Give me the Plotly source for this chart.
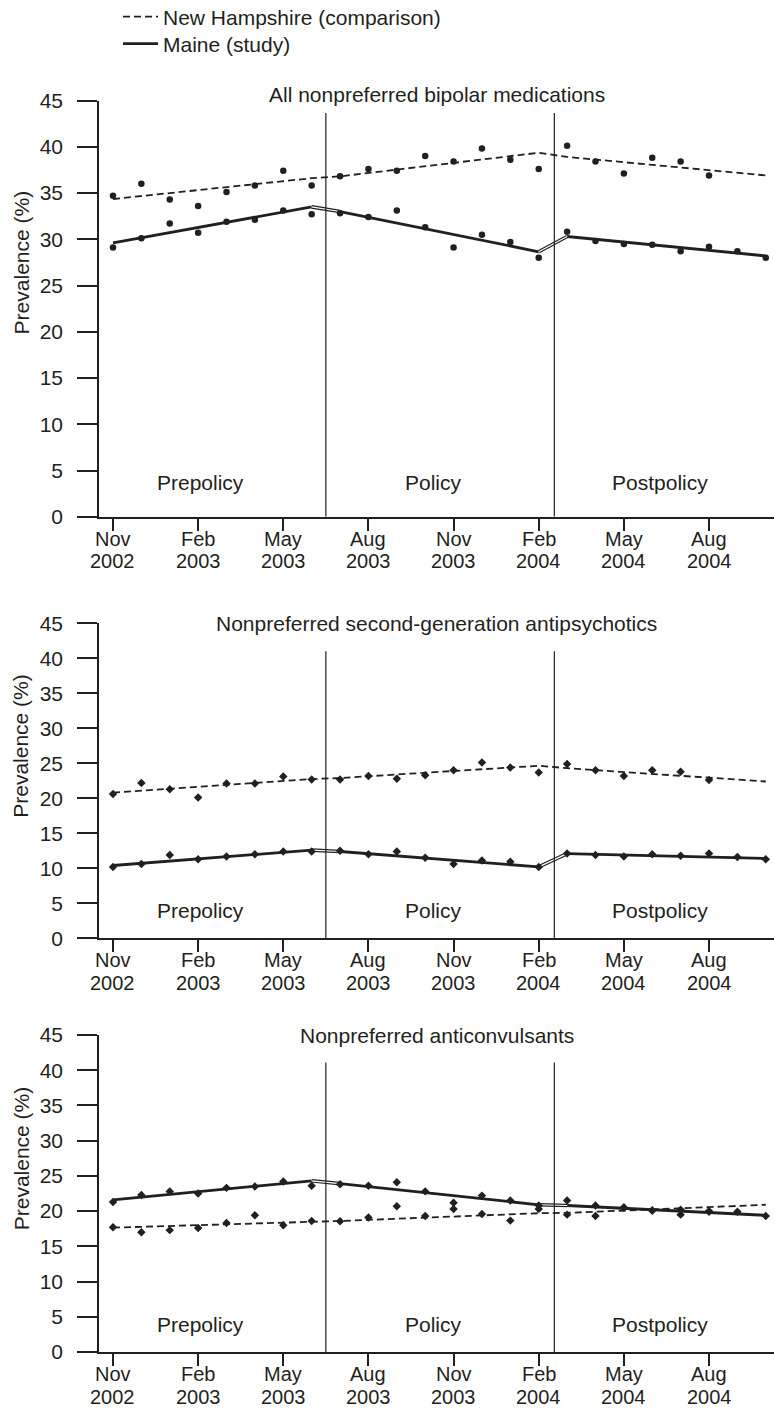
import plotly.graph_objects as go

# Monthly observation periods
months = ["Nov 2002", "Dec 2002", "Jan 2003", "Feb 2003", "Mar 2003", "Apr 2003",
          "May 2003", "Jun 2003", "Jul 2003", "Aug 2003", "Sep 2003", "Oct 2003",
          "Nov 2003", "Dec 2003", "Jan 2004", "Feb 2004", "Mar 2004", "Apr 2004",
          "May 2004", "Jun 2004", "Jul 2004", "Aug 2004", "Sep 2004", "Oct 2004"]
tick_months = ["Nov 2002", "Feb 2003", "May 2003", "Aug 2003",
               "Nov 2003", "Feb 2004", "May 2004", "Aug 2004"]

# End points of the fitted segments (pre-policy, policy, post-policy)
fit_months = ["Nov 2002", "Jun 2003", "Jul 2003", "Feb 2004", "Mar 2004", "Oct 2004"]

panel_titles = ["All nonpreferred bipolar medications",
                "Nonpreferred second-generation antipsychotics",
                "Nonpreferred anticonvulsants"]
period_names = ["Prepolicy", "Policy", "Postpolicy"]
series_names = ["New Hampshire (comparison)", "Maine (study)"]

# All nonpreferred bipolar medications, prevalence (%)
nh_all = [34.7, 36.0, 34.3, 33.6, 35.1, 35.8, 37.4, 35.8, 36.8, 37.6, 37.4,
          39.0, 38.4, 39.8, 38.6, 37.6, 40.1, 38.4, 37.1, 38.8, 38.4, 36.9]
me_all = [29.1, 30.1, 31.7, 30.7, 31.9, 32.1, 33.1, 32.7, 32.8, 32.4, 33.1, 31.3,
          29.1, 30.5, 29.7, 28.0, 30.8, 29.8, 29.5, 29.4, 28.7, 29.2, 28.7, 28.0]
nh_all_fit = [34.35, 36.6, 36.8, 39.35, 38.9, 36.9]
me_all_fit = [29.6, 33.5, 33.0, 28.65, 30.3, 28.2]

# Nonpreferred second-generation antipsychotics
nh_sga = [20.6, 22.2, 21.3, 20.1, 22.1, 22.1, 23.1, 22.7, 22.7, 23.2, 22.8,
          23.3, 24.0, 25.1, 24.4, 23.7, 24.9, 24.0, 23.2, 24.0, 23.8, 22.6]
me_sga = [10.2, 10.6, 11.9, 11.3, 11.7, 12.0, 12.4, 12.4, 12.5, 12.0, 12.4, 11.5,
          10.6, 11.1, 10.95, 10.2, 12.1, 11.9, 11.7, 12.0, 11.8, 12.1, 11.6, 11.3]
nh_sga_fit = [20.8, 22.75, 22.9, 24.65, 24.3, 22.4]
me_sga_fit = [10.4, 12.6, 12.4, 10.2, 12.1, 11.4]

# Nonpreferred anticonvulsants
nh_ac = [17.7, 17.0, 17.3, 17.6, 18.3, 19.4, 18.0, 18.6, 18.55, 19.1, 20.7,
         19.3, 20.3, 19.6, 18.65, 20.3, 19.5, 19.3, 20.5, 20.1, 19.5, 20.0]
me_ac = [21.3, 22.3, 22.8, 22.5, 23.3, 23.5, 24.2, 23.6, 23.8, 23.6, 24.1, 22.8,
         21.2, 22.2, 21.5, 20.8, 21.5, 20.8, 20.5, 20.1, 20.2, 19.9, 19.9, 19.3]
nh_ac_fit = [17.65, 18.5, 18.6, 19.7, 19.75, 20.9]
me_ac_fit = [21.6, 24.3, 23.9, 20.9, 20.8, 19.4]

panels = [
    dict(nh=nh_all, me=me_all, nh_fit=nh_all_fit, me_fit=me_all_fit),
    dict(nh=nh_sga, me=me_sga, nh_fit=nh_sga_fit, me_fit=me_sga_fit),
    dict(nh=nh_ac, me=me_ac, nh_fit=nh_ac_fit, me_fit=me_ac_fit),
]

# ---- styling / layout ----
INK = "#231f20"
FONT = "Liberation Sans, Arial, Helvetica, sans-serif"
FS = 21
TICK_FS = 20
W, H = 774, 1409
LEFT = 99
# vertical pixel extents (top, bottom) of each plotting area
panel_px = [(100.5, 516.8), (623.3, 938.3), (1035.0, 1352.0)]
title_px = [95.0, 623.3, 1035.0]
ytitle_value = 27.5
divider_top = [43.65, 41.0, 41.1]
period_y = [3.7, 3.9, 3.9]
period_x = [3.09, 11.31, 19.29]
divider_x = [7.5, 15.55]
marker_symbol = ["circle", "diamond", "diamond"]
marker_size = [6.5, 6.5, 6.5]
month_row_shift, year_row_shift = -22, -44.5

fig = go.Figure()
layout_axes = {}
annotations = []
shapes = []

for i, p in enumerate(panels):
    n = "" if i == 0 else str(i + 1)
    xa, ya = "x" + n, "y" + n
    f = p["me_fit"]
    fm = fit_months

    # New Hampshire fitted trend (dashed)
    fig.add_trace(go.Scatter(
        x=fm, y=p["nh_fit"], mode="lines", xaxis=xa, yaxis=ya,
        name=series_names[0], showlegend=(i == 0), legend="legend",
        line=dict(color=INK, width=1.8, dash="7px,4px"), hoverinfo="skip"))

    # Maine fitted segments (solid)
    fig.add_trace(go.Scatter(
        x=[fm[0], fm[1], fm[1], fm[2], fm[3], fm[3], fm[4], fm[5]],
        y=[f[0], f[1], None, f[2], f[3], None, f[4], f[5]],
        mode="lines", xaxis=xa, yaxis=ya, connectgaps=False,
        name=series_names[1], showlegend=(i == 0), legend="legend2",
        line=dict(color=INK, width=2.8), hoverinfo="skip"))

    # Maine transition links between segments (double stroke)
    link_x = [fm[1], fm[2], fm[2], fm[3], fm[4]]
    link_y = [f[1], f[2], None, f[3], f[4]]
    fig.add_trace(go.Scatter(
        x=link_x, y=link_y, mode="lines", xaxis=xa, yaxis=ya, connectgaps=False,
        showlegend=False, line=dict(color=INK, width=3.6), hoverinfo="skip"))
    fig.add_trace(go.Scatter(
        x=link_x, y=link_y, mode="lines", xaxis=xa, yaxis=ya, connectgaps=False,
        showlegend=False, line=dict(color="white", width=1.2), hoverinfo="skip"))

    # Monthly observations
    fig.add_trace(go.Scatter(
        x=months[:len(p["nh"])], y=p["nh"], mode="markers", xaxis=xa, yaxis=ya,
        showlegend=False,
        marker=dict(color=INK, size=marker_size[i], symbol=marker_symbol[i])))
    fig.add_trace(go.Scatter(
        x=months[:len(p["me"])], y=p["me"], mode="markers", xaxis=xa, yaxis=ya,
        showlegend=False,
        marker=dict(color=INK, size=marker_size[i], symbol=marker_symbol[i])))

    top, bot = panel_px[i]
    layout_axes["xaxis" + n] = dict(
        type="category", categoryorder="array", categoryarray=months,
        range=[-0.493, 23.29], domain=[0, 1], anchor=ya,
        tickvals=tick_months, showticklabels=False,
        ticks="outside", ticklen=12, tickwidth=1.5, tickcolor=INK,
        showline=True, linewidth=1.5, linecolor=INK,
        showgrid=False, zeroline=False, fixedrange=True)
    layout_axes["yaxis" + n] = dict(
        range=[0, 45], domain=[1 - bot / H, 1 - top / H], anchor=xa,
        tickvals=list(range(0, 50, 5)),
        ticks="outside", ticklen=20, tickwidth=1.5, tickcolor=INK,
        ticklabelstandoff=10,
        tickfont=dict(family=FONT, size=FS, color=INK),
        showline=True, linewidth=1.5, linecolor=INK,
        showgrid=False, zeroline=False, fixedrange=True)

    # period dividers
    for dx in divider_x:
        shapes.append(dict(type="line", xref=xa, yref=ya, x0=dx, x1=dx,
                           y0=0, y1=divider_top[i], line=dict(color=INK, width=1.2)))

    # panel title
    annotations.append(dict(text=panel_titles[i], xref=xa + " domain", x=0.5,
                            yref="paper", y=1 - title_px[i] / H, yanchor="middle",
                            showarrow=False, font=dict(family=FONT, size=FS, color=INK)))
    # period labels
    for px_, name in zip(period_x, period_names):
        annotations.append(dict(text=name, xref=xa, x=px_, yref=ya, y=period_y[i],
                                yanchor="middle", showarrow=False,
                                font=dict(family=FONT, size=FS, color=INK)))
    # axis title
    annotations.append(dict(text="Prevalence (%)", textangle=-90,
                            xref="paper", x=(21 - LEFT) / (W - LEFT), xanchor="center",
                            yref=ya + " domain", y=ytitle_value / 45, yanchor="middle",
                            showarrow=False, font=dict(family=FONT, size=FS, color=INK)))
    # two-row month / year tick labels
    for tm in tick_months:
        mon, yr = tm.split(" ")
        for txt, shift in ((mon, month_row_shift), (yr, year_row_shift)):
            annotations.append(dict(text=txt, xref=xa, x=tm, yref=ya + " domain", y=0,
                                    yanchor="middle", yshift=shift, showarrow=False,
                                    borderpad=0,
                                    font=dict(family=FONT, size=TICK_FS, color=INK)))

legend_common = dict(x=(118 - LEFT) / (W - LEFT), xanchor="left", yanchor="middle",
                     bgcolor="rgba(0,0,0,0)", borderwidth=0, itemwidth=35,
                     font=dict(family=FONT, size=FS, color=INK))

fig.update_layout(
    width=W, height=H,
    margin=dict(l=LEFT, r=0, t=0, b=0, autoexpand=False),
    paper_bgcolor="white", plot_bgcolor="white",
    font=dict(family=FONT, size=FS, color=INK),
    showlegend=True,
    legend=dict(y=1 - 17 / H, **legend_common),
    legend2=dict(y=1 - 44 / H, **legend_common),
    annotations=annotations, shapes=shapes,
    **layout_axes)

fig.write_html("out.html")
